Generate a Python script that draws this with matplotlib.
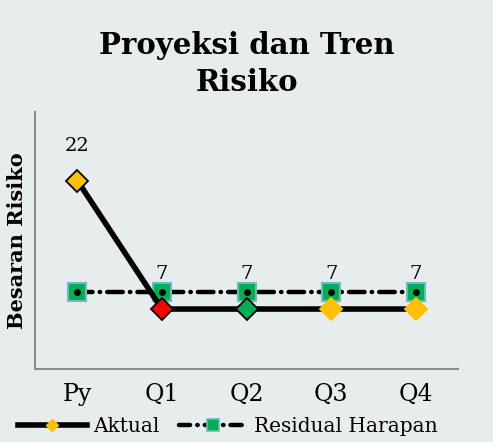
import matplotlib
matplotlib.use("Agg")
import matplotlib.pyplot as plt
from matplotlib.lines import Line2D

categories = ["Py", "Q1", "Q2", "Q3", "Q4"]
aktual = [22, 7, 7, 7, 7]
residual = [9, 9, 9, 9, 9]
aktual_colors = ["#FFC000", "#FF0000", "#00B050", "#FFC000", "#FFC000"]
aktual_edges = ["#000000", "#000000", "#000000", "#FFC000", "#FFC000"]

plt.rcParams['font.family'] = ['DejaVu Serif']
BG = "#E7ECEC"

fig = plt.figure(figsize=(4.93, 4.42), dpi=100, facecolor=BG)
ax = fig.add_axes([35/493, (442-369)/442, (458-35)/493, (369-112)/442])
ax.set_facecolor(BG)

x = list(range(len(categories)))

# Residual line
ax.plot(x, residual, color="black", lw=3.2, dashes=(3.5, 1.6, 0.1, 1.6),
        dash_capstyle="round", zorder=2)
ax.plot(x, residual, linestyle="none", marker="s", markersize=13.5,
        markerfacecolor="#00B050", markeredgecolor="#6FB7C1", markeredgewidth=1.5,
        zorder=3)
ax.plot(x, residual, linestyle="none", marker="o", markersize=4,
        color="black", zorder=4)

# Aktual line
ax.plot(x, aktual, color="black", lw=4, solid_capstyle="butt", zorder=5)
for xi, yi, fc, ec in zip(x, aktual, aktual_colors, aktual_edges):
    ax.plot([xi], [yi], linestyle="none", marker="D", markersize=11,
            markerfacecolor=fc, markeredgecolor=ec, markeredgewidth=1.3, zorder=6)
    ax.annotate(str(yi), (xi, yi), xytext=(0, 25), textcoords="offset points",
                ha="center", va="center", fontsize=14, zorder=7)

ax.set_xlim(-0.5, len(categories) - 0.5)
ax.set_ylim(0, 30)
ax.set_xticks(x)
ax.set_xticklabels(categories, fontsize=17)
ax.tick_params(axis="x", length=0, pad=10)
ax.set_yticks([])
for s in ["top", "right"]:
    ax.spines[s].set_visible(False)
for s in ["left", "bottom"]:
    ax.spines[s].set_color("#8C8C8C")
    ax.spines[s].set_linewidth(1.5)

ax.set_ylabel("Besaran Risiko", fontsize=15, fontweight="bold", labelpad=6)

fig.suptitle("Proyeksi dan Tren\nRisiko", fontsize=21, fontweight="bold",
             x=0.5, y=0.93, va="top", linespacing=1.35)

h1 = Line2D([0], [0], color="black", lw=4, marker="D", markersize=6,
            markerfacecolor="#FFC000", markeredgecolor="#FFC000")
h2 = Line2D([0], [0], color="black", lw=3.2, dashes=(2.5, 1.6, 0.1, 1.6),
            dash_capstyle="round", marker="s", markersize=8,
            markerfacecolor="#00B050", markeredgecolor="#6FB7C1", markeredgewidth=1.2)
fig.legend([h1, h2], ["Aktual", "Residual Harapan"], loc="center",
           bbox_to_anchor=(0.462, 1 - 427/442), ncol=2, frameon=False,
           fontsize=14.5, handlelength=3.4, handletextpad=0.3, columnspacing=1.0)

fig.savefig("out.png", dpi=100, facecolor=BG)
